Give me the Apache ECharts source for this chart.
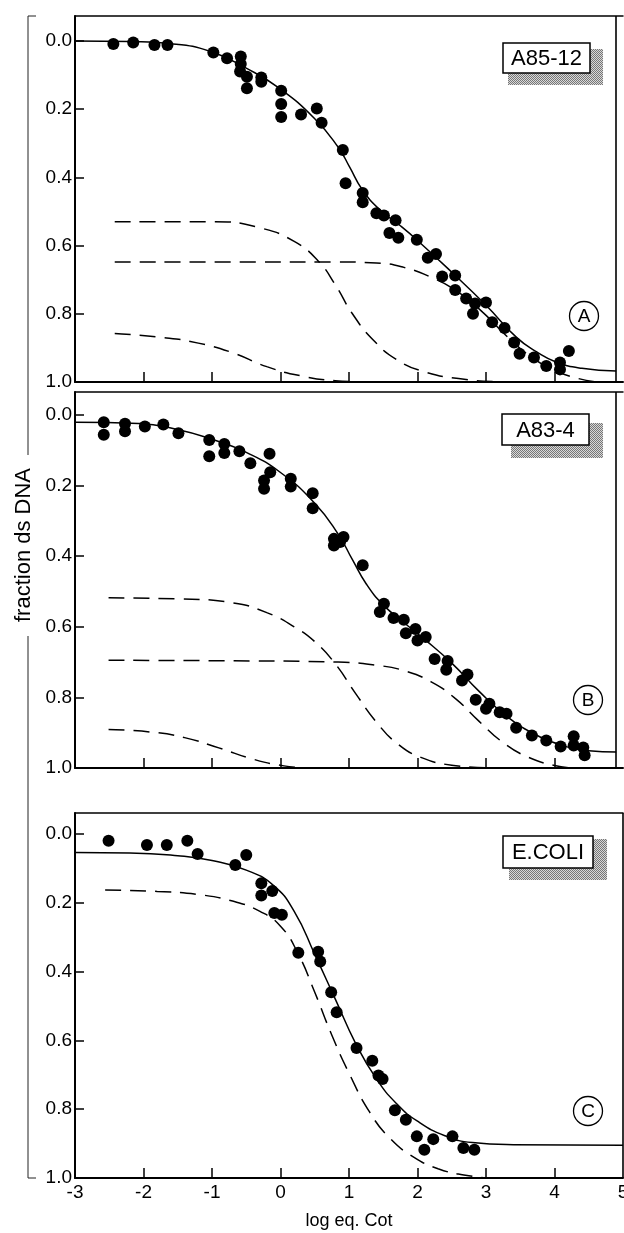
<!DOCTYPE html>
<html><head><meta charset="utf-8">
<script src="https://cdn.jsdelivr.net/npm/echarts@6/dist/echarts.min.js"></script>
<style>html,body{margin:0;padding:0;background:#fff}#c{width:624px;height:1233px}</style>
</head><body><div id="c"></div>
<script>
// ---- data ----
const xTicks = [-3, -2, -1, 0, 1, 2, 3, 4, 5];
const xInnerTicks = [-2, -1, 0, 1, 2, 3, 4];
const yTicks = [0, 0.2, 0.4, 0.6, 0.8, 1.0];
const panelLabels = ['A85-12', 'A83-4', 'E.COLI'];
const panelLetters = ['A', 'B', 'C'];
const panelRightEdge = [4.9, 4.9, 5.0];
const yTitle = 'fraction ds DNA';
const xTitle = 'log eq. Cot';

const aDots = [[-2.44,0.009],[-2.15,0.005],[-1.84,0.012],[-1.65,0.012],[-0.98,0.034],[-0.78,0.051],[-0.58,0.046],[-0.58,0.068],[-0.59,0.09],[-0.49,0.105],[-0.49,0.139],[-0.28,0.107],[-0.28,0.12],[0.01,0.146],[0.01,0.185],[0.01,0.223],[0.30,0.216],[0.53,0.198],[0.60,0.24],[0.91,0.32],[0.95,0.417],[1.20,0.446],[1.20,0.473],[1.40,0.505],[1.51,0.512],[1.68,0.526],[1.59,0.563],[1.72,0.577],[1.99,0.583],[2.15,0.636],[2.27,0.625],[2.36,0.691],[2.55,0.688],[2.55,0.73],[2.71,0.755],[2.84,0.77],[2.81,0.80],[3.0,0.767],[3.09,0.825],[3.27,0.842],[3.41,0.884],[3.49,0.917],[3.70,0.928],[3.88,0.953],[4.08,0.943],[4.08,0.963],[4.21,0.909]];
const aFit = [[-3,0.0],[-2.2,0.002],[-1.6,0.008],[-1.02,0.031],[-0.5,0.08],[-0.03,0.137],[0.5,0.228],[0.84,0.311],[1.01,0.37],[1.19,0.435],[1.45,0.495],[1.75,0.542],[2.0,0.585],[2.5,0.678],[3.0,0.775],[3.45,0.87],[3.74,0.912],[4.03,0.942],[4.4,0.96],[4.9,0.968]];
const aComp1 = [[-2.42,0.53],[-0.97,0.53],[-0.3,0.548],[0.2,0.588],[0.55,0.645],[0.8,0.715],[1.05,0.8],[1.35,0.876],[1.7,0.935],[2.1,0.97],[2.6,0.99],[3.2,0.999],[3.6,1.0]];
const aComp2 = [[-2.42,0.648],[-0.5,0.648],[0.8,0.648],[1.4,0.651],[1.8,0.664],[2.2,0.693],[2.6,0.737],[2.95,0.795],[3.3,0.865],[3.65,0.925],[4.0,0.966],[4.35,0.99],[4.62,1.0]];
const aComp3 = [[-2.42,0.858],[-1.7,0.87],[-1.2,0.886],[-0.7,0.914],[-0.2,0.955],[0.3,0.982],[0.8,0.996],[1.3,1.0]];

const bDots = [[-2.58,0.021],[-2.58,0.056],[-2.27,0.025],[-2.27,0.046],[-1.98,0.033],[-1.71,0.027],[-1.49,0.052],[-1.04,0.071],[-1.04,0.117],[-0.82,0.082],[-0.82,0.108],[-0.60,0.103],[-0.44,0.137],[-0.24,0.186],[-0.24,0.209],[-0.16,0.110],[-0.15,0.162],[0.15,0.181],[0.15,0.203],[0.47,0.222],[0.47,0.264],[0.78,0.351],[0.78,0.370],[0.87,0.360],[0.92,0.346],[1.20,0.426],[1.45,0.558],[1.51,0.535],[1.65,0.575],[1.80,0.580],[1.83,0.618],[1.97,0.606],[2.0,0.639],[2.12,0.629],[2.25,0.691],[2.44,0.697],[2.42,0.722],[2.65,0.752],[2.73,0.735],[2.85,0.807],[3.0,0.832],[3.05,0.818],[3.20,0.842],[3.30,0.846],[3.44,0.886],[3.67,0.908],[3.88,0.922],[4.09,0.939],[4.28,0.910],[4.28,0.936],[4.42,0.942],[4.44,0.964]];
const bFit = [[-3,0.021],[-2.07,0.024],[-1.49,0.042],[-1.0,0.069],[-0.5,0.106],[0.0,0.163],[0.5,0.25],[0.84,0.337],[1.05,0.41],[1.25,0.478],[1.5,0.538],[1.8,0.588],[2.1,0.635],[2.5,0.703],[2.9,0.783],[3.3,0.853],[3.7,0.903],[4.1,0.935],[4.5,0.951],[4.9,0.955]];
const bComp1 = [[-2.51,0.518],[-1.49,0.521],[-0.7,0.532],[-0.2,0.56],[0.2,0.6],[0.5,0.642],[0.8,0.705],[1.1,0.79],[1.4,0.87],[1.7,0.93],[2.05,0.97],[2.5,0.992],[3.1,1.0]];
const bComp2 = [[-2.51,0.695],[-1.0,0.696],[0.84,0.70],[1.4,0.709],[1.8,0.724],[2.2,0.756],[2.55,0.803],[2.9,0.868],[3.25,0.928],[3.6,0.968],[4.0,0.993],[4.3,1.0]];
const bComp3 = [[-2.51,0.891],[-1.9,0.898],[-1.4,0.914],[-0.9,0.943],[-0.4,0.975],[0.05,0.994],[0.43,1.0]];

const cDots = [[-2.51,0.020],[-1.95,0.032],[-1.66,0.032],[-1.36,0.020],[-1.21,0.058],[-0.66,0.090],[-0.50,0.061],[-0.28,0.143],[-0.28,0.179],[-0.12,0.166],[-0.09,0.230],[0.02,0.235],[0.26,0.345],[0.55,0.342],[0.58,0.371],[0.74,0.460],[0.82,0.518],[1.11,0.622],[1.34,0.659],[1.43,0.702],[1.49,0.712],[1.67,0.803],[1.83,0.831],[1.99,0.879],[2.10,0.918],[2.23,0.887],[2.51,0.879],[2.67,0.913],[2.83,0.918]];
const cFit = [[-3,0.054],[-2.2,0.055],[-1.5,0.063],[-1.0,0.077],[-0.5,0.105],[-0.1,0.15],[0.2,0.225],[0.5,0.35],[0.8,0.48],[1.1,0.61],[1.4,0.712],[1.7,0.785],[2.0,0.835],[2.4,0.877],[2.8,0.897],[3.4,0.903],[5.0,0.905]];
const cComp = [[-2.56,0.163],[-1.8,0.167],[-1.2,0.176],[-0.7,0.195],[-0.3,0.225],[0.0,0.268],[0.25,0.345],[0.5,0.46],[0.75,0.585],[1.0,0.695],[1.3,0.808],[1.6,0.885],[1.95,0.94],[2.3,0.973],[2.7,0.992],[3.05,1.0]];

const FONT = '"Liberation Sans", Arial, Helvetica, sans-serif';
const gridBoxes = [
  {top: 16, height: 366, ymin: -0.073},
  {top: 392, height: 376, ymin: -0.065},
  {top: 813, height: 365, ymin: -0.061}
];
const panels = [
  {dots: aDots, fit: aFit, comps: [aComp1, aComp2, aComp3]},
  {dots: bDots, fit: bFit, comps: [bComp1, bComp2, bComp3]},
  {dots: cDots, fit: cFit, comps: [cComp]}
];

const chart = echarts.init(document.getElementById('c'), null, {renderer: 'canvas'});

const grid = [], xAxis = [], yAxis = [], series = [];
gridBoxes.forEach((g, i) => {
  grid.push({left: 75, right: 1, top: g.top, height: g.height, containLabel: false, outerBoundsMode: 'none'});
  const isLast = i === gridBoxes.length - 1;
  xAxis.push({
    type: 'value', gridIndex: i, min: -3, max: 5, position: 'bottom',
    axisLine: {onZero: false, lineStyle: {color: '#000', width: 2}},
    axisTick: {show: true, inside: true, length: 10, customValues: xInnerTicks, lineStyle: {color: '#000', width: 1.5}},
    axisLabel: {show: isLast, customValues: xTicks, color: '#000', fontSize: 19, fontFamily: FONT, margin: 5,
      showMinLabel: true, showMaxLabel: true, hideOverlap: false},
    splitLine: {show: false},
    name: isLast ? xTitle : '', nameLocation: 'middle', nameGap: 34,
    nameTextStyle: {color: '#000', fontSize: 18, fontFamily: FONT}
  });
  yAxis.push({
    type: 'value', gridIndex: i, inverse: true, min: g.ymin, max: 1.0,
    axisLine: {show: true, onZero: false, lineStyle: {color: '#000', width: 2}},
    axisTick: {show: true, inside: true, length: 9, customValues: yTicks, lineStyle: {color: '#000', width: 1.5}},
    axisLabel: {customValues: yTicks, color: '#000', fontSize: 19, fontFamily: FONT, margin: 3,
      formatter: v => v.toFixed(1)},
    splitLine: {show: false}
  });
});
// top frame lines
gridBoxes.forEach((g, i) => {
  xAxis.push({
    type: 'value', gridIndex: i, min: -3, max: 5, position: 'top',
    axisLine: {show: true, onZero: false, lineStyle: {color: '#000', width: 1.5}},
    axisTick: {show: false}, axisLabel: {show: false}, splitLine: {show: false}
  });
});

panels.forEach((p, i) => {
  p.comps.forEach(c => series.push({
    type: 'line', xAxisIndex: i, yAxisIndex: i, data: c, symbol: 'none',
    smooth: 0.5, silent: true,
    lineStyle: {color: '#000', width: 1.5, type: [16, 9]}
  }));
  series.push({
    type: 'line', xAxisIndex: i, yAxisIndex: i, data: p.fit, symbol: 'none',
    smooth: 0.5, silent: true,
    lineStyle: {color: '#000', width: 1.5},
    markLine: {silent: true, symbol: 'none', label: {show: false},
      lineStyle: {color: '#000', type: 'solid', width: 1.6},
      data: [{xAxis: panelRightEdge[i]}]}
  });
  series.push({
    type: 'scatter', xAxisIndex: i, yAxisIndex: i, data: p.dots,
    symbol: 'circle', symbolSize: 12, itemStyle: {color: '#000', opacity: 1}, silent: true
  });
});

// stipple pattern for label shadows
const pat = document.createElement('canvas');
pat.width = 2; pat.height = 2;
const pctx = pat.getContext('2d');
pctx.fillStyle = '#d8d8d8'; pctx.fillRect(0, 0, 2, 2);
pctx.fillStyle = '#777'; pctx.fillRect(0, 0, 1, 1); pctx.fillRect(1, 1, 1, 1);

const boxes = [
  {x: 503, y: 43, w: 87, h: 30, sx: 508, sy: 49, sw: 95, sh: 36},
  {x: 502, y: 414, w: 87, h: 31, sx: 511, sy: 423, sw: 92, sh: 35},
  {x: 503, y: 836, w: 90, h: 32, sx: 509, sy: 839, sw: 98, sh: 41}
];
const circles = [{cx: 584, cy: 316}, {cx: 588, cy: 700}, {cx: 588, cy: 1111}];
const graphic = [];
boxes.forEach((b, i) => {
  graphic.push({type: 'rect', shape: {x: b.sx, y: b.sy, width: b.sw, height: b.sh}, style: {fill: {image: pat, repeat: 'repeat'}}, silent: true});
  graphic.push({type: 'rect', shape: {x: b.x, y: b.y, width: b.w, height: b.h}, style: {fill: '#fff', stroke: '#000', lineWidth: 1.5}, silent: true});
  graphic.push({type: 'text', x: b.x + b.w / 2, y: b.y + b.h / 2 + 1, style: {text: panelLabels[i], fill: '#000', font: '22px ' + FONT, align: 'center', verticalAlign: 'middle'}, silent: true});
});
circles.forEach((c, i) => {
  graphic.push({type: 'circle', shape: {cx: c.cx, cy: c.cy, r: 14.5}, style: {fill: '#fff', stroke: '#000', lineWidth: 1.3}, silent: true});
  graphic.push({type: 'text', x: c.cx, y: c.cy + 1, style: {text: panelLetters[i], fill: '#000', font: '19px ' + FONT, align: 'center', verticalAlign: 'middle'}, silent: true});
});
// y title bracket
graphic.push({type: 'polyline', shape: {points: [[36, 16], [28, 16], [28, 455]]}, style: {stroke: '#222', lineWidth: 1, fill: null}, silent: true});
graphic.push({type: 'polyline', shape: {points: [[28, 636], [28, 1178], [36, 1178]]}, style: {stroke: '#222', lineWidth: 1, fill: null}, silent: true});
graphic.push({type: 'text', x: 24, y: 545, rotation: Math.PI / 2,
  style: {text: yTitle, fill: '#000', font: '22px ' + FONT, align: 'center', verticalAlign: 'middle'}, silent: true});

chart.setOption({
  animation: false,
  backgroundColor: '#fff',
  grid, xAxis, yAxis, series, graphic
});
</script>
</body></html>
